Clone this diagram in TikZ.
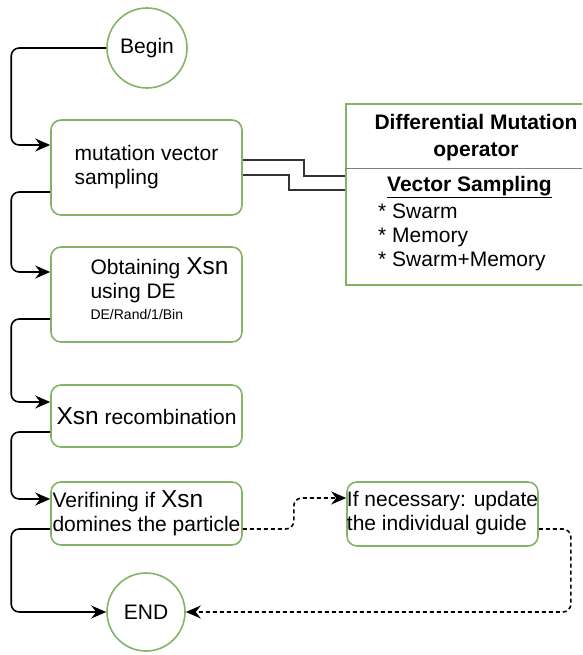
\documentclass[tikz,border=0pt]{standalone}
\usepackage{fontspec}
\setmainfont{Liberation Sans}
\usetikzlibrary{arrows.meta,positioning}
\definecolor{boxgreen}{HTML}{82B366}
\definecolor{linegray}{HTML}{333333}
\newcommand{\Xsn}{{\fontsize{24.5}{26}\selectfont Xsn}}

\begin{document}
\begin{tikzpicture}[
        x=1pt, y=-1pt,
        txt/.style={font=\fontsize{21}{24}\selectfont},
        stepbox/.style={rectangle,rounded corners=10,draw=boxgreen,line width=1.6pt,minimum width=191,align=left,inner sep=0,txt},
        ends/.style={circle,draw=boxgreen,line width=1.6pt,inner sep=0,txt},
        flow/.style={-{Stealth[length=15pt,width=13pt,inset=5pt]},line width=1.6pt,rounded corners=8},
        maybe/.style={flow,dash pattern=on 4pt off 3pt},
        link/.style={draw=linegray,line width=1.5pt}
        ]
        \clip (0,0) rectangle (582,655);
        \node (begin) [ends,minimum size=80] at (147,48) {Begin};
        \node (vec) [stepbox,minimum height=95] at (146.5,167.5) {mutation vector\\sampling};
        \node (obt) [stepbox,minimum height=95] at (146.5,294.5) {\hspace*{26pt}Obtaining \Xsn\\\hspace*{26pt}using DE\\[-3pt]\hspace*{26pt}{\fontsize{14}{16}\selectfont DE/Rand/1/Bin}\rule[-12pt]{0pt}{0pt}};
        \node (rec) [stepbox,minimum height=62] at (146.5,416) {\Xsn{} recombination};
        \node (ver) [stepbox,minimum height=63] at (146.5,513.5) {Verifining if \Xsn\\domines the particle};
        \node (upd) [stepbox,minimum height=64] at (442.5,514) {If necessary: update\\the individual guide\rule[-6pt]{0pt}{0pt}};
        \node (end) [ends,minimum size=78] at (146,612) {END};
        \node (panel) [rectangle,draw=boxgreen,line width=1.6pt,minimum width=260,minimum height=181] at (476,194.5) {};
        \draw[gray,line width=1.2pt] ([yshift=-65]panel.north west) -- ([yshift=-65]panel.north east);
        \node (head) [align=center,font=\fontsize{21}{27}\selectfont\bfseries] at (476,138) {Differential Mutation\\operator};
        \node (samp) [txt,align=left,anchor=north west,inner sep=0] at (378,176) {\hspace*{9pt}\underline{\textbf{Vector Sampling}}\\[3pt]{}* Swarm\\{}* Memory\\{}* Swarm+Memory};

        \draw[link] ([yshift=7.5]vec.east) -- ++(61,0) |- ([yshift=18.5]panel.west);
        \draw[link] ([yshift=-7.5]vec.east) -- ++(46,0) |- ([yshift=4.5]panel.west);

        \draw[flow] (begin.west) -- ++(-95,0) |- ([yshift=22.5]vec.west);
        \draw[flow] ([yshift=-24.5]vec.west) -- ++(-39,0) |- ([yshift=22.5]obt.west);
        \draw[flow] ([yshift=-24.5]obt.west) -- ++(-39,0) |- ([yshift=14]rec.west);
        \draw[flow] ([yshift=-16]rec.west) -- ++(-39,0) |- ([yshift=14.5]ver.west);
        \draw[flow] ([yshift=-15.5]ver.west) -- ++(-39,0) |- (end.west);
        \draw[maybe] ([yshift=-15.5]ver.east) -- ++(51,0) |- ([yshift=16]upd.west);
        \draw[maybe] ([yshift=-15]upd.east) -- ++(32,0) |- (end.east);
\end{tikzpicture}
\end{document}
